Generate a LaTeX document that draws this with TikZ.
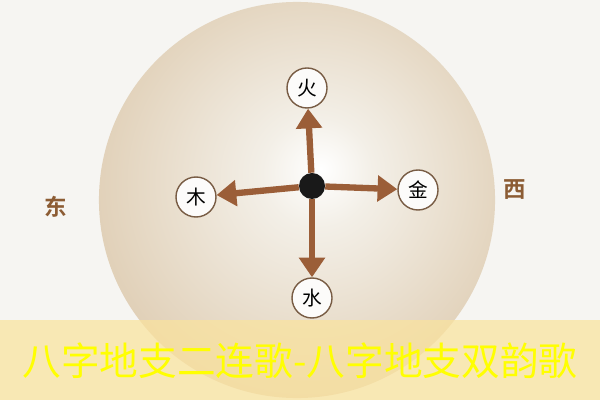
\documentclass[tikz,border=0pt]{standalone}
\usepackage{fontspec}
\newfontfamily\cjk{Noto Sans CJK SC}
\newfontfamily\cjkbold{Noto Sans CJK SC Bold}
\usetikzlibrary{arrows.meta,positioning}

\definecolor{paper}{RGB}{246,245,242}
\definecolor{discedge}{RGB}{192,160,118}
\definecolor{arrowbrown}{RGB}{155,94,56}
\definecolor{ringbrown}{RGB}{120,92,68}
\definecolor{dirbrown}{RGB}{140,92,52}
\definecolor{bannerfill}{RGB}{250,227,157}
\definecolor{titleyellow}{RGB}{255,255,0}

\pgfdeclareradialshading{disc}{\pgfpoint{3bp}{4bp}}{%
  color(0bp)=(white);
  color(7bp)=(rgb,255:red,243;green,239;blue,231);
  color(28bp)=(rgb,255:red,224;green,207;blue,182);
  color(46bp)=(rgb,255:red,205;green,177;blue,138);
  color(50bp)=(discedge)}

\tikzset{
  element/.style={circle, draw=ringbrown, line width=1pt, fill=white!96!discedge,
    minimum size=1cm, inner sep=0pt, font=\cjk\fontsize{14}{14}\selectfont},
  flow/.style={draw=arrowbrown, line width=4.5pt,
    -{Triangle[length=14pt,width=18pt]}},
  direction/.style={text=dirbrown, font=\cjkbold\fontsize{16}{16}\selectfont},
}

\begin{document}
\begin{tikzpicture}[x=0.025cm,y=-0.025cm]
  \useasboundingbox (0,0) rectangle (600,400);
  \fill[paper] (0,0) rectangle (600,400);
  % the disc
  \shade[shading=disc] (297,200) circle [radius=4.95cm];

  \node[circle, fill=black!90, minimum size=0.65cm, inner sep=0pt] (hub) at (312,186) {};
  \node[element] (fire) at (307,88) {火};
  \node[element] (wood) at (196,197) {木};
  \node[element] (metal) at (418,190) {金};
  \node[element] (water) at (312,298) {水};

  \draw[flow] (hub) -- (fire);
  \draw[flow] (hub) -- (wood);
  \draw[flow] (hub) -- (metal);
  \draw[flow] (hub) -- (water);

  \node[direction] (east) at (56,207) {东};
  \node[direction] (west) at (515,190) {西};

  % banner
  \fill[bannerfill, opacity=0.72] (0,320) rectangle (600,400);
  \node[text=titleyellow, font=\cjk\fontsize{27.5}{27.5}\selectfont] (title) at (300,361)
    {八字地支二连歌-八字地支双韵歌};
\end{tikzpicture}
\end{document}
